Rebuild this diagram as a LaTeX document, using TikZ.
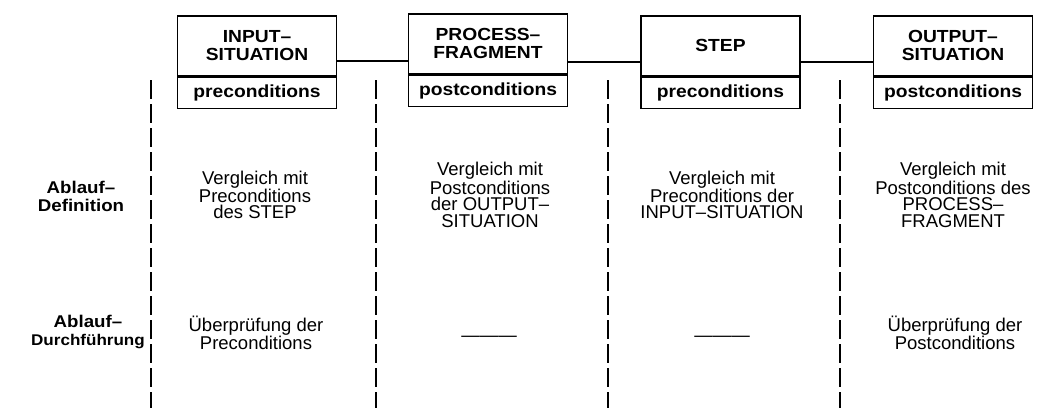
\documentclass[tikz,border=0pt]{standalone}
\usepackage{fontspec}
\setmainfont{Liberation Sans}
\newfontfamily\wideb{Liberation Sans}[FakeStretch=1.1]
\begin{document}
\begin{tikzpicture}[x=1pt,y=-1pt,
  boxline/.style={draw, line width=1.5pt},
  headbox/.style={boxline, minimum width=159, minimum height=60, inner sep=0pt,
    align=center, font=\wideb\bfseries\fontsize{17.5}{18}\selectfont},
  condbox/.style={boxline, minimum width=159, minimum height=31, inner sep=0pt,
    font=\wideb\bfseries\fontsize{17.5}{18}\selectfont},
  link/.style={line width=1.5pt},
  separator/.style={line width=1.6pt, dash pattern=on 19pt off 5pt},
  rowlabel/.style={align=center, inner sep=0pt,
    font=\wideb\bfseries\fontsize{17}{18}\selectfont},
  celltext/.style={align=center, inner sep=0pt,
    font=\fontsize{18.5}{16.5}\selectfont}]
\useasboundingbox (0,0) rectangle (1043,408);

% object boxes: header part and conditions part
\node[headbox, anchor=north] (h1) at (257,15) {INPUT–\\SITUATION};
\node[condbox, anchor=north] (c1) at (h1.south) {preconditions};
\node[headbox, anchor=north] (h2) at (488,13) {PROCESS–\\FRAGMENT};
\node[condbox, anchor=north] (c2) at (h2.south) {postconditions};
\node[headbox, anchor=north] (h3) at (720.5,15) {STEP};
\node[condbox, anchor=north] (c3) at (h3.south) {preconditions};
\node[headbox, anchor=north] (h4) at (953,15) {OUTPUT–\\SITUATION};
\node[condbox, anchor=north] (c4) at (h4.south) {postconditions};

% links between the boxes
\draw[link] (h1.east |- 0,61) -- (h2.west |- 0,61);
\draw[link] (h2.east |- 0,62) -- (h3.west |- 0,62);
\draw[link] (h3.east |- 0,62) -- (h4.west |- 0,62);

% column separators
\foreach \sx in {151,376,608,840}
  \draw[separator] (\sx,80) -- (\sx,408);

% row labels
\node[rowlabel] (r1) at (81,196) {Ablauf–\\Definition};
\node[rowlabel] (r2) at (88,332)
  {Ablauf–\\\fontsize{15.5}{18}\selectfont Durchführung};

% definition row
\node[celltext] (d1) at (255,195) {Vergleich mit\\Preconditions\\des STEP};
\node[celltext] (d2) at (490,195) {Vergleich mit\\Postconditions\\der OUTPUT–\\SITUATION};
\node[celltext] (d3) at (722,195) {Vergleich mit\\Preconditions der\\INPUT–SITUATION};
\node[celltext] (d4) at (953,195) {Vergleich mit\\Postconditions des\\PROCESS–\\FRAGMENT};

% execution row
\node[celltext] (e1) at (256,333) {Überprüfung der\\Preconditions};
\node[celltext] (e2) at (489,339) {———};
\node[celltext] (e3) at (722,339) {———};
\node[celltext] (e4) at (955,333) {Überprüfung der\\Postconditions};
\end{tikzpicture}
\end{document}
